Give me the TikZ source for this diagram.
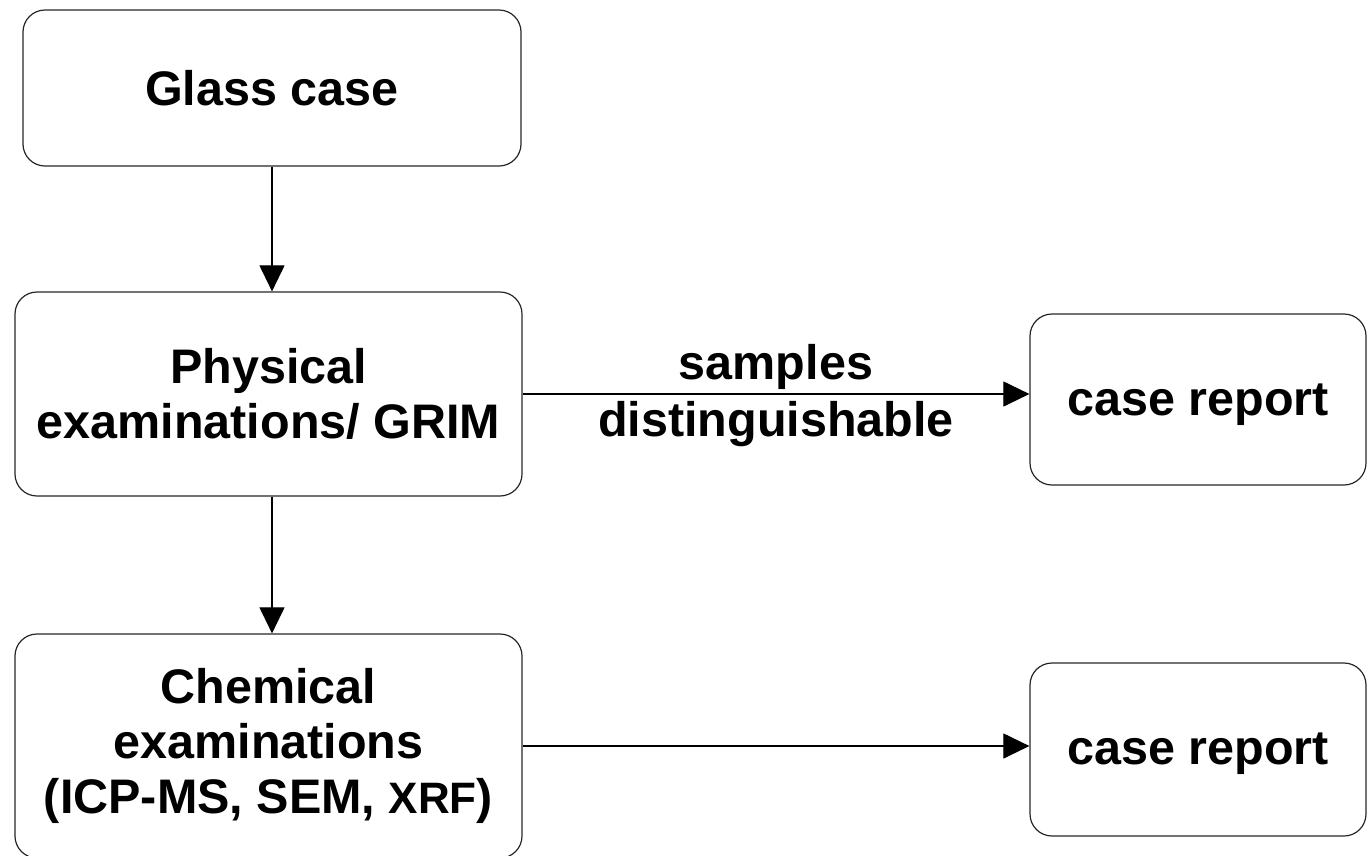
\documentclass[tikz,border=0pt]{standalone}
\usepackage{fontspec}
\setmainfont{Liberation Sans}
\usetikzlibrary{arrows.meta}
\begin{document}
\begin{tikzpicture}[x=1pt,y=-1pt,
  box/.style={draw=black!85,line width=1.2pt,rounded corners=22pt,align=center,
    inner sep=0pt,font=\fontsize{48.5}{55}\selectfont\bfseries},
  link/.style={draw=black,line width=1.1pt,-{Triangle[length=26pt,width=25pt]}},
  lbl/.style={align=center,font=\fontsize{48.5}{57}\selectfont\bfseries}]
\useasboundingbox (0,0) rectangle (1367,855);
\node[box,minimum width=498pt,minimum height=156pt] (glass) at (272,88) {Glass case};
\node[box,minimum width=507pt,minimum height=204pt] (phys) at (268.5,394) {Physical\\examinations/ GRIM};
\node[box,minimum width=507pt,minimum height=224pt] (chem) at (268.5,746) {Chemical\\examinations\\(ICP-MS, SEM, {\fontsize{44}{55}\selectfont XRF})};
\node[box,minimum width=336pt,minimum height=171pt] (rep1) at (1198,399.5) {\raisebox{-5pt}[\height][\depth]{case report}};
\node[box,minimum width=336pt,minimum height=173pt] (rep2) at (1198,749.5) {\raisebox{-4pt}[\height][\depth]{case report}};
\coordinate (p1) at ([xshift=3.5pt]phys.south);
\coordinate (c1) at ([xshift=3.5pt]chem.north);
\draw[link] (glass.south) -- (glass.south |- phys.north);
\draw[link] (p1) -- (c1);
\draw[link] (phys.east) -- node[lbl,yshift=-2pt] {samples\\distinguishable} (phys.east -| rep1.west);
\draw[link] (chem.east) -- (chem.east -| rep2.west);
\end{tikzpicture}
\end{document}
